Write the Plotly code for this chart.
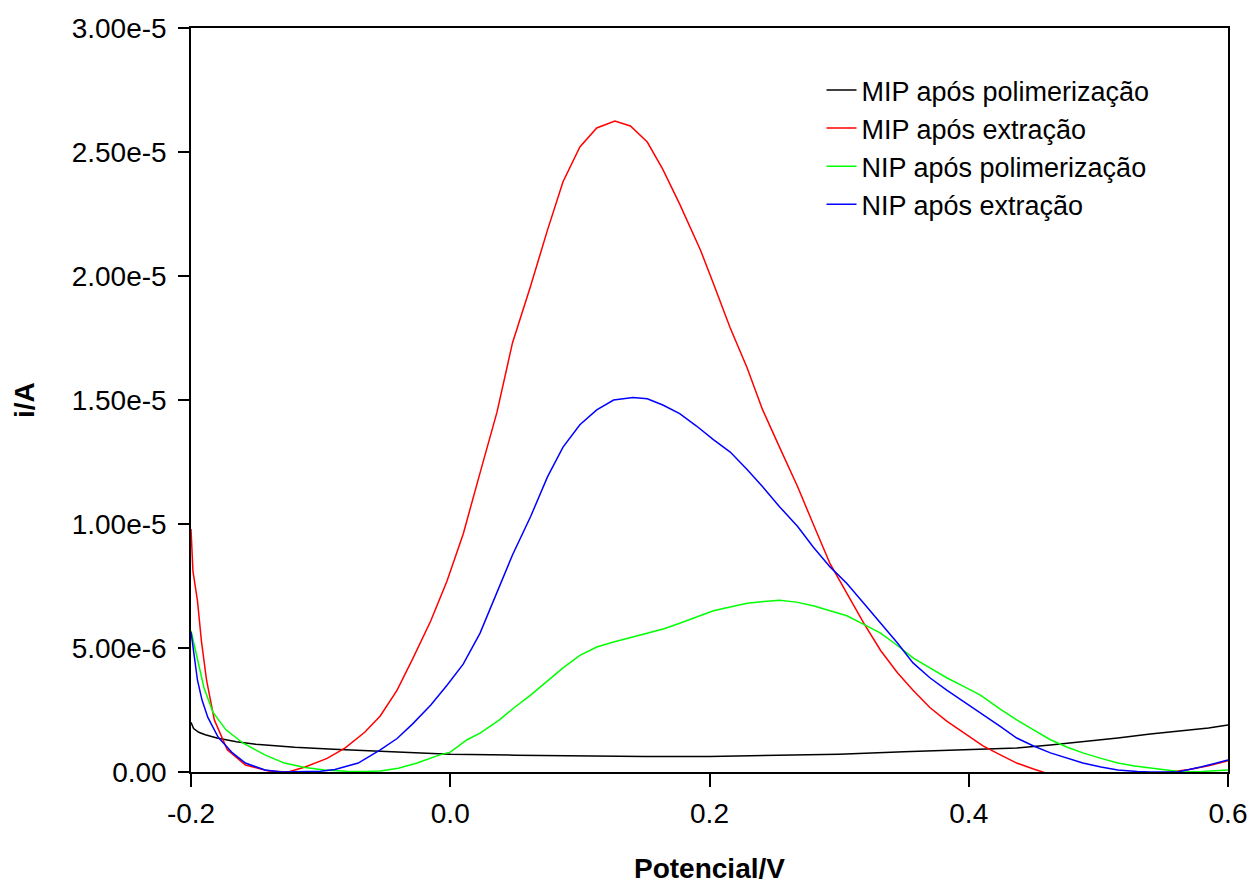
import numpy as np
import plotly.graph_objects as go

# potential (V) and current (µA, converted to A below)
mip_pol_v = [-0.200, -0.198, -0.194, -0.189, -0.180, -0.165, -0.150, -0.120, -0.090, -0.060,
             -0.030, 0.000, 0.050, 0.100, 0.150, 0.200, 0.250, 0.300, 0.350, 0.386,
             0.411, 0.437, 0.463, 0.488, 0.515, 0.540, 0.565, 0.585, 0.600]
mip_pol_i = [2.0, 1.75, 1.6, 1.5, 1.37, 1.22, 1.12, 1.0, 0.92, 0.85,
             0.78, 0.72, 0.68, 0.64, 0.62, 0.62, 0.66, 0.72, 0.82, 0.89,
             0.92, 0.97, 1.09, 1.21, 1.37, 1.53, 1.65, 1.77, 1.9]

mip_ext_v = [-0.200, -0.1985, -0.195, -0.192, -0.188, -0.182, -0.172, -0.158, -0.140, -0.125,
             -0.112, -0.095, -0.081, -0.066, -0.054, -0.041, -0.029, -0.015, -0.0025, 0.010,
             0.023, 0.036, 0.048, 0.062, 0.075, 0.087, 0.100, 0.113, 0.127, 0.139,
             0.152, 0.164, 0.177, 0.193, 0.203, 0.216, 0.229, 0.241, 0.254, 0.268,
             0.280, 0.293, 0.306, 0.319, 0.332, 0.345, 0.357, 0.370, 0.383, 0.396,
             0.411, 0.424, 0.437, 0.450, 0.460, 0.480, 0.500, 0.520, 0.540, 0.557,
             0.570, 0.585, 0.600]
mip_ext_i = [9.8, 8.1, 6.9, 5.3, 3.7, 2.1, 0.9, 0.28, 0.04, 0.0,
             0.2, 0.55, 0.97, 1.6, 2.26, 3.3, 4.56, 6.1, 7.7, 9.6,
             12.06, 14.5, 17.3, 19.6, 21.85, 23.8, 25.2, 25.97, 26.25, 26.05,
             25.4, 24.3, 22.9, 21.05, 19.7, 17.9, 16.3, 14.6, 13.1, 11.5,
             10.0, 8.4, 7.2, 6.0, 4.9, 4.0, 3.3, 2.6, 2.05, 1.6,
             1.05, 0.7, 0.36, 0.12, -0.05, -0.2, -0.3, -0.25, -0.1, 0.0,
             0.1, 0.25, 0.45]

nip_pol_v = [-0.200, -0.197, -0.194, -0.190, -0.183, -0.173, -0.160, -0.143, -0.128, -0.112,
             -0.097, -0.080, -0.065, -0.054, -0.040, -0.0256, -0.008, 0.000, 0.013, 0.023,
             0.038, 0.048, 0.062, 0.075, 0.087, 0.100, 0.113, 0.126, 0.139, 0.152,
             0.165, 0.177, 0.190, 0.203, 0.216, 0.229, 0.242, 0.254, 0.267, 0.280,
             0.293, 0.306, 0.319, 0.332, 0.345, 0.357, 0.370, 0.383, 0.396, 0.409,
             0.424, 0.437, 0.450, 0.463, 0.476, 0.488, 0.502, 0.515, 0.528, 0.540,
             0.553, 0.565, 0.580, 0.600]
nip_pol_i = [5.7, 5.0, 4.4, 3.4, 2.4, 1.7, 1.17, 0.69, 0.36, 0.18,
             0.08, 0.03, 0.02, 0.04, 0.15, 0.36, 0.69, 0.8, 1.3, 1.57,
             2.1, 2.54, 3.1, 3.67, 4.2, 4.7, 5.04, 5.24, 5.42, 5.6,
             5.78, 6.0, 6.25, 6.5, 6.65, 6.8, 6.88, 6.93, 6.85, 6.7,
             6.5, 6.3, 5.95, 5.6, 5.1, 4.6, 4.2, 3.8, 3.45, 3.1,
             2.55, 2.1, 1.7, 1.3, 1.0, 0.77, 0.55, 0.36, 0.24, 0.16,
             0.06, 0.0, 0.02, 0.08]

nip_ext_v = [-0.200, -0.198, -0.195, -0.1915, -0.187, -0.179, -0.168, -0.158, -0.143, -0.130,
             -0.116, -0.100, -0.089, -0.071, -0.054, -0.041, -0.029, -0.015, -0.0025, 0.010,
             0.023, 0.036, 0.048, 0.062, 0.075, 0.087, 0.100, 0.113, 0.126, 0.141,
             0.152, 0.164, 0.177, 0.190, 0.203, 0.216, 0.229, 0.241, 0.254, 0.268,
             0.280, 0.293, 0.306, 0.319, 0.332, 0.345, 0.357, 0.370, 0.383, 0.396,
             0.411, 0.424, 0.437, 0.450, 0.463, 0.476, 0.488, 0.502, 0.515, 0.530,
             0.540, 0.561, 0.579, 0.600]
nip_ext_i = [5.65, 4.8, 3.7, 2.9, 2.2, 1.4, 0.77, 0.36, 0.08, 0.0,
             0.0, 0.03, 0.1, 0.36, 0.89, 1.35, 1.94, 2.7, 3.5, 4.35,
             5.6, 7.2, 8.75, 10.3, 11.9, 13.1, 14.0, 14.6, 15.0, 15.1,
             15.05, 14.8, 14.45, 13.95, 13.4, 12.9, 12.2, 11.5, 10.7, 9.9,
             9.07, 8.27, 7.6, 6.8, 6.0, 5.2, 4.4, 3.8, 3.3, 2.85,
             2.3, 1.85, 1.37, 1.05, 0.77, 0.55, 0.36, 0.2, 0.08, 0.02,
             0.0, 0.0, 0.2, 0.48]

series_names = ["MIP após polimerização", "MIP após extração",
                "NIP após polimerização", "NIP após extração"]
series_colors = ["#000000", "#ff0000", "#00ff00", "#0000ff"]

y_ticks = [0, 5e-6, 1e-5, 1.5e-5, 2e-5, 2.5e-5, 3e-5]
y_ticktext = ["0.00", "5.00e-6", "1.00e-5", "1.50e-5", "2.00e-5", "2.50e-5", "3.00e-5"]
x_ticks = [-0.2, 0.0, 0.2, 0.4, 0.6]
x_ticktext = ["-0.2", "0.0", "0.2", "0.4", "0.6"]

font = "Liberation Sans, Arial, sans-serif"

fig = go.Figure()
data = [(mip_pol_v, mip_pol_i), (mip_ext_v, mip_ext_i),
        (nip_pol_v, nip_pol_i), (nip_ext_v, nip_ext_i)]
for (v, i), name, col in zip(data, series_names, series_colors):
    fig.add_trace(go.Scatter(
        x=v, y=np.array(i) * 1e-6,
        mode="lines", name=name,
        line=dict(color=col, width=1.5),
    ))

axis_common = dict(
    showgrid=False, zeroline=False, automargin=False,
    showline=True, linecolor="black", linewidth=1.5, mirror=True,
    ticks="outside", tickcolor="black", tickwidth=1.5,
    tickfont=dict(family=font, size=28, color="black"),
)

fig.update_xaxes(range=[-0.2, 0.6], tickvals=x_ticks, ticktext=x_ticktext,
                 ticklen=13, ticklabelstandoff=3, **axis_common)
fig.update_yaxes(range=[0, 3e-5], tickvals=y_ticks, ticktext=y_ticktext,
                 ticklen=11, ticklabelstandoff=6, **axis_common)

fig.add_annotation(text="<b>Potencial/V</b>", xref="paper", yref="paper",
                   x=0.5, y=0, yanchor="middle", yshift=-96, showarrow=False,
                   font=dict(family=font, size=28, color="black"))
fig.add_annotation(text="<b>i/A</b>", xref="paper", yref="paper",
                   x=0, y=0.5, xanchor="center", xshift=-167, textangle=-90,
                   showarrow=False, font=dict(family=font, size=28, color="black"))

fig.update_layout(
    width=1251, height=885, autosize=False,
    margin=dict(l=191, r=23, t=28, b=113),
    paper_bgcolor="white", plot_bgcolor="white",
    legend=dict(x=0.608, y=0.949, xanchor="left", yanchor="top",
                bgcolor="rgba(0,0,0,0)", borderwidth=0,
                font=dict(family=font, size=27, color="black"),
                tracegroupgap=0),
)

# drop the default page margin so the figure fills the window exactly
fig.write_html("out.html", config={"displayModeBar": False},
               post_script="document.body.style.margin='0';document.body.style.overflow='hidden';")
